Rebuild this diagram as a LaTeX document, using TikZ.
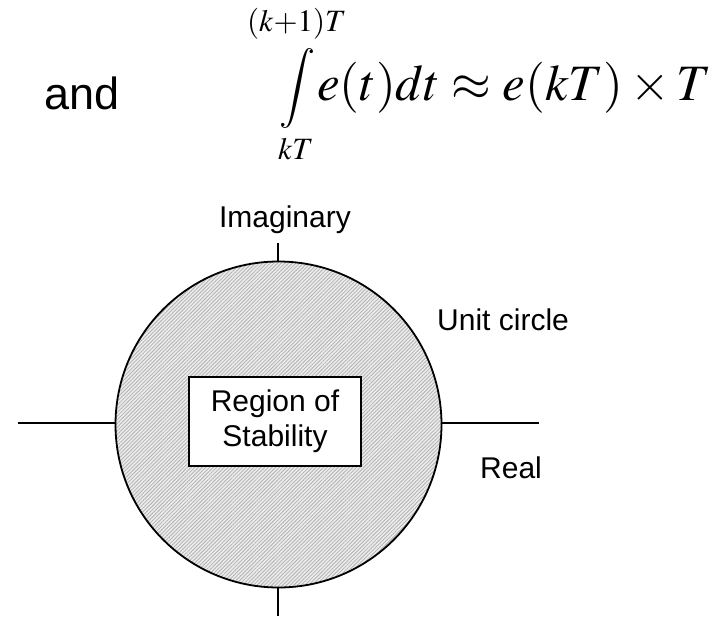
\documentclass[tikz,border=0pt]{standalone}
\usepackage{mathptmx}
\usepackage[no-math]{fontspec}
\setmainfont{Liberation Sans}
\usetikzlibrary{patterns.meta}

\tikzset{
  lbl/.style={inner sep=0pt, anchor=base west, font=\fontsize{30}{35}\selectfont},
  mth/.style={inner sep=0pt, anchor=base west, font=\fontsize{51}{56}\selectfont},
  lim/.style={inner sep=0pt, anchor=base west, font=\fontsize{31}{36}\selectfont},
  axis/.style={line width=2pt, line cap=butt},
}

\begin{document}
\begin{tikzpicture}[x=1pt, y=-1pt]

  \useasboundingbox (0,0) rectangle (713,618);

  % --- 1. 式 ---
  \node[inner sep=0pt, anchor=base west, font=\fontsize{45}{50}\selectfont] (andtxt) at (44,110) {and};
  \node[mth] (body) at (317,100) {$e(t)dt \approx e(kT)\times T$};
  \node[inner sep=0pt, font=\fontsize{40}{46}\selectfont] (intsign) at (297,88) {$\displaystyle\int$};
  \node[lim] (uplim) at (247,32) {$(k{+}1)T$};
  \node[lim] (lowlim) at (278,160) {$kT$};

  % --- 2. 座標軸 ---
  \coordinate (xl) at (18,423);
  \coordinate (xr) at (539,423);
  \coordinate (yt) at (278,243);
  \coordinate (yb) at (278,616);
  \draw[axis] (xl) -- (xr);
  \draw[axis] (yt) -- (yb);

  % --- 3. 単位円 (安定領域) ---
  \coordinate (org) at (278.5,424.5);
  \fill[gray!15] (org) circle (163);
  \fill[pattern={Lines[angle=45, distance=2.6pt, line width=0.8pt]}, pattern color=gray!60] (org) circle (163);
  \draw[line width=1.8pt] (org) circle (163);

  % 中央の箱
  \node[draw, line width=2pt, fill=white, minimum width=172pt, minimum height=89pt,
        align=center, font=\fontsize{30}{35}\selectfont] (region) at (275,421.5) {Region of\\Stability};

  % --- 4. ラベル ---
  \node[lbl, anchor=base] (imag) at (285,227) {Imaginary};
  \node[lbl] (unit) at (437,330) {Unit circle};
  \node[lbl] (real) at (480,478) {Real};

\end{tikzpicture}
\end{document}
